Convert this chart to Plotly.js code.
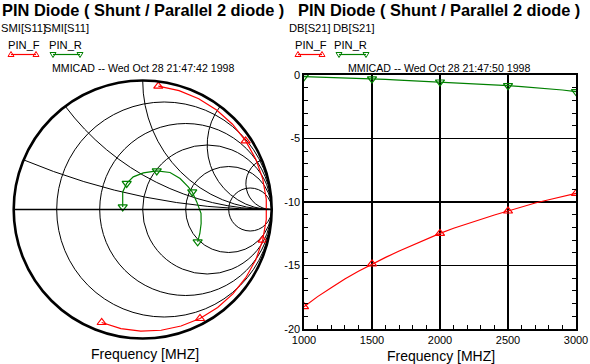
<!DOCTYPE html>
<html><head><meta charset="utf-8">
<script src="https://cdn.plot.ly/plotly-3.0.1.min.js"></script>
<style>html,body{margin:0;padding:0;background:#fff;} #chart{width:590px;height:364px;}</style>
</head><body><div id="chart"></div>
<script>
// ---- data ----
const freqMHz = [1000,1100,1200,1300,1400,1500,1600,1700,1800,1900,2000,2100,2200,2300,2400,2500,2600,2700,2800,2900,3000];
const pinF_S21dB = [-18.24,-17.45,-16.75,-16.06,-15.46,-14.88,-14.36,-13.86,-13.39,-12.91,-12.47,-12.07,-11.71,-11.36,-11.02,-10.71,-10.39,-10.08,-9.82,-9.55,-9.32];
const pinR_S21dB = [-0.13,-0.16,-0.19,-0.23,-0.27,-0.31,-0.35,-0.40,-0.45,-0.50,-0.55,-0.60,-0.66,-0.72,-0.78,-0.84,-0.92,-1.00,-1.08,-1.18,-1.31];
const markerFreqMHz = [1000,1500,2000,2500,3000];
const pinF_S21dBMarkers = [-18.24,-14.88,-12.47,-10.71,-9.32];
const pinR_S21dBMarkers = [-0.13,-0.31,-0.55,-0.84,-1.31];

// S11 reflection coefficient (real / imaginary), along the drawn paths
const pinF_S11Re = [0.121,0.282,0.434,0.573,0.696,0.798,0.877,0.930,0.958,0.958,0.930,0.877,0.799,0.699,0.581,0.444,0.297,0.143,-0.015,-0.169,-0.318];
const pinF_S11Im = [0.956,0.921,0.859,0.771,0.661,0.532,0.390,0.239,0.080,-0.079,-0.238,-0.389,-0.529,-0.654,-0.759,-0.845,-0.903,-0.936,-0.943,-0.923,-0.876];
const pinF_S11MarkRe = [0.121,0.798,0.930,0.444,-0.318];
const pinF_S11MarkIm = [0.956,0.532,-0.238,-0.845,-0.876];
const pinR_S11Re = [-0.155,-0.155,-0.124,-0.073,0.005,0.109,0.212,0.290,0.353,0.384,0.419,0.452,0.453,0.443,0.426];
const pinR_S11Im = [0.020,0.136,0.202,0.253,0.284,0.299,0.287,0.240,0.175,0.136,0.059,-0.029,-0.109,-0.186,-0.251];
const pinR_S11MarkRe = [-0.155,-0.124,0.109,0.384,0.426];
const pinR_S11MarkIm = [0.020,0.202,0.299,0.136,-0.251];

const xTickVals = [1000,1500,2000,2500,3000];
const xTickLabels = ['1000','1500','2000','2500','3000'];
const yTickVals = [-20,-15,-10,-5,0];
const yTickLabels = ['-20','-15','-10','-5','0'];
const smithGridVals = [0.2,0.5,1,2,5];

const seriesNames = ['PIN_F','PIN_R'];
const RED = '#ff0000', GREEN = '#008000';

// reflection coefficient -> normalized impedance (what scattersmith expects)
function gammaToZ(re, im){
  const zr = [], zi = [];
  for (let i=0;i<re.length;i++){
    const a=re[i], b=im[i], d=(1-a)*(1-a)+b*b;
    zr.push((1-a*a-b*b)/d); zi.push(2*b/d);
  }
  return {re:zr, im:zi};
}
const zF = gammaToZ(pinF_S11Re, pinF_S11Im);
const zFm = gammaToZ(pinF_S11MarkRe, pinF_S11MarkIm);
const zR = gammaToZ(pinR_S11Re, pinR_S11Im);
const zRm = gammaToZ(pinR_S11MarkRe, pinR_S11MarkIm);

const W=590, H=364;
const px = x => x/W, py = y => 1 - y/H;

const traces = [
  {type:'scattersmith', real:zF.re, imag:zF.im, mode:'lines', line:{color:RED, width:1.2}, name:seriesNames[0]},
  {type:'scattersmith', real:zFm.re, imag:zFm.im, mode:'markers', marker:{symbol:'triangle-up-open', size:8, color:RED, line:{width:1.2}}, name:seriesNames[0]},
  {type:'scattersmith', real:zR.re, imag:zR.im, mode:'lines', line:{color:GREEN, width:1.2}, name:seriesNames[1]},
  {type:'scattersmith', real:zRm.re, imag:zRm.im, mode:'markers', marker:{symbol:'triangle-down-open', size:8, color:GREEN, line:{width:1.2}}, name:seriesNames[1]},
  {type:'scatter', x:freqMHz, y:pinR_S21dB, mode:'lines', line:{color:GREEN, width:1.2}, name:seriesNames[1]},
  {type:'scatter', x:markerFreqMHz, y:pinR_S21dBMarkers, mode:'markers', marker:{symbol:'triangle-down-open', size:8, color:GREEN, line:{width:1.2}}, name:seriesNames[1]},
  {type:'scatter', x:freqMHz, y:pinF_S21dB, mode:'lines', line:{color:RED, width:1.2}, name:seriesNames[0]},
  {type:'scatter', x:markerFreqMHz, y:pinF_S21dBMarkers, mode:'markers', marker:{symbol:'triangle-up-open', size:8, color:RED, line:{width:1.2}}, name:seriesNames[0]}
];

const FONT = 'Liberation Sans, Arial, sans-serif';
function ann(text, x, y, size, bold, xanchor){
  return {text: bold ? '<b>'+text+'</b>' : text, xref:'paper', yref:'paper', x:px(x), y:py(y),
    xanchor: xanchor||'left', yanchor:'middle', showarrow:false, borderpad:0,
    font:{family:FONT, size:size, color:'#000'}};
}
const annotations = [
  ann('PIN Diode ( Shunt / Parallel 2 diode )', 1, 9.5, 16.4, true),
  ann('PIN Diode ( Shunt / Parallel 2 diode )', 297, 9.5, 16.4, true),
  ann('SMI[S11]', 0, 28.5, 11.2),
  ann('SMI[S11]', 43, 28.5, 11.2),
  ann('DB[S21]', 288, 28.5, 11.2),
  ann('DB[S21]', 332, 28.5, 11.2),
  ann(seriesNames[0], 6.5, 44.5, 11.2),
  ann(seriesNames[1], 48, 44.5, 11.2),
  ann(seriesNames[0], 294, 44.5, 11.2),
  ann(seriesNames[1], 333, 44.5, 11.2),
  ann('MMICAD -- Wed Oct 28 21:47:42 1998', 51, 67.5, 10.6),
  ann('MMICAD -- Wed Oct 28 21:47:50 1998', 347, 67.5, 10.6),
  ann('Frequency [MHZ]', 145, 354, 14, false, 'center'),
  ann('Frequency [MHZ]', 441, 356, 14, false, 'center')
];

function triUp(cx, cy, color){
  return {type:'path', xref:'paper', yref:'paper', line:{color:color, width:1},
    path:'M'+px(cx-3)+','+py(cy+2)+' L'+px(cx+3)+','+py(cy+2)+' L'+px(cx)+','+py(cy-3)+' Z'};
}
function triDown(cx, cy, color){
  return {type:'path', xref:'paper', yref:'paper', line:{color:color, width:1},
    path:'M'+px(cx-3)+','+py(cy-2)+' L'+px(cx+3)+','+py(cy-2)+' L'+px(cx)+','+py(cy+3)+' Z'};
}
function hline(x0, x1, y, color){
  return {type:'line', xref:'paper', yref:'paper', x0:px(x0), x1:px(x1), y0:py(y), y1:py(y), line:{color:color, width:1.2}};
}
const shapes = [
  hline(11, 36, 54.5, RED), triUp(11, 54.5, RED), triUp(36, 54.5, RED),
  hline(53, 80, 54.5, GREEN), triDown(53, 54.5, GREEN), triDown(80, 54.5, GREEN),
  hline(298, 322, 54.5, RED), triUp(298, 54.5, RED), triUp(322, 54.5, RED),
  hline(339, 366, 54.5, GREEN), triDown(339, 54.5, GREEN), triDown(366, 54.5, GREEN)
];

const layout = {
  width:W, height:H, margin:{l:0,r:0,t:0,b:0}, paper_bgcolor:'#fff', plot_bgcolor:'#fff',
  showlegend:false, font:{family:FONT, size:11, color:'#000'},
  smith:{
    domain:{x:[px(13.7), px(271.7)], y:[py(338.5), py(80.5)]}, bgcolor:'#fff',
    realaxis:{tickvals:smithGridVals, showticklabels:false, ticks:'', gridcolor:'#000', gridwidth:1, linecolor:'#000', linewidth:1.3},
    imaginaryaxis:{tickvals:smithGridVals, showticklabels:false, ticks:'', gridcolor:'#000', gridwidth:1, linecolor:'#000', linewidth:2.6}
  },
  xaxis:{domain:[px(304), px(576)], range:[1000,3000], tickvals:xTickVals, ticktext:xTickLabels,
    showgrid:true, gridcolor:'#000', gridwidth:1.6, zeroline:false,
    showline:true, linecolor:'#000', linewidth:1.6, mirror:true,
    ticks:'inside', ticklen:4, tickcolor:'#000', tickfont:{family:FONT, size:11},
    minor:{dtick:100, ticks:'inside', ticklen:4, tickcolor:'#000', showgrid:false}},
  yaxis:{domain:[py(329), py(75)], range:[-20,0], tickvals:yTickVals, ticktext:yTickLabels,
    showgrid:true, gridcolor:'#000', gridwidth:1.6, zeroline:false,
    showline:true, linecolor:'#000', linewidth:1.6, mirror:'ticks',
    ticks:'inside', ticklen:4, tickcolor:'#000', tickfont:{family:FONT, size:11},
    minor:{dtick:1, ticks:'inside', ticklen:4, tickcolor:'#000', showgrid:false}},
  annotations:annotations, shapes:shapes
};

Plotly.newPlot('chart', traces, layout, {displayModeBar:false, staticPlot:true});
</script>
</body></html>
